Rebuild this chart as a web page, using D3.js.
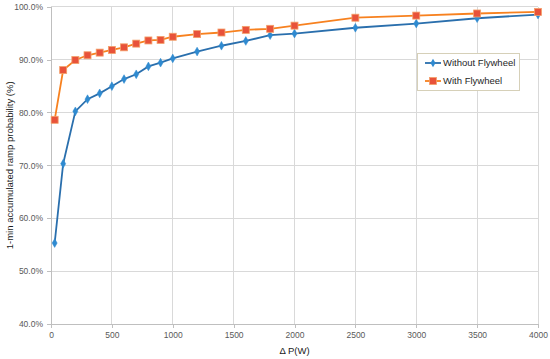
<!DOCTYPE html>
<html><head><meta charset="utf-8">
<script src="https://cdn.jsdelivr.net/npm/d3@7"></script>
<style>body{margin:0;background:#fff}svg{display:block}</style>
</head><body>
<script>
const deltaP = [30,100,200,300,400,500,600,700,800,900,1000,1200,1400,1600,1800,2000,2500,3000,3500,4000];
const withoutFlywheel = [55.3,70.3,80.2,82.5,83.6,84.95,86.3,87.2,88.7,89.4,90.2,91.5,92.6,93.5,94.6,94.9,96.0,96.8,97.8,98.5];
const withFlywheel = [78.6,88.0,89.9,90.8,91.3,91.8,92.3,93.0,93.6,93.7,94.3,94.8,95.1,95.6,95.8,96.4,97.9,98.3,98.7,99.0];
const xTicks = [0,500,1000,1500,2000,2500,3000,3500,4000];
const yTicks = [40,50,60,70,80,90,100];
const seriesNames = ["Without Flywheel","With Flywheel"];

const W=550,H=359;
const m={l:51,r:12,t:6.6,b:35};
const svg=d3.select("body").append("svg").attr("width",W).attr("height",H);
const x=d3.scaleLinear().domain([0,4000]).range([m.l,W-m.r]);
const y=d3.scaleLinear().domain([40,100]).range([H-m.b,m.t]);
const font="'Liberation Sans', Arial, sans-serif";

// grid
svg.append("g").selectAll("line").data(yTicks.slice(1)).join("line")
  .attr("x1",m.l).attr("x2",W-m.r).attr("y1",d=>y(d)).attr("y2",d=>y(d))
  .attr("stroke","#d9d9d9").attr("stroke-width",1).attr("shape-rendering","crispEdges");
svg.append("g").selectAll("line").data(xTicks.slice(1)).join("line")
  .attr("x1",d=>x(d)).attr("x2",d=>x(d)).attr("y1",m.t).attr("y2",H-m.b)
  .attr("stroke","#d9d9d9").attr("stroke-width",1).attr("shape-rendering","crispEdges");

// axes
const xa=svg.append("g").attr("transform",`translate(0,${H-m.b})`)
  .call(d3.axisBottom(x).tickValues(xTicks).tickSize(4).tickPadding(4).tickFormat(d3.format("d")));
const ya=svg.append("g").attr("transform",`translate(${m.l},0)`)
  .call(d3.axisLeft(y).tickValues(yTicks).tickSize(4).tickPadding(4).tickFormat(d=>d.toFixed(1)+"%"));
[xa,ya].forEach(a=>{
  a.select(".domain").attr("stroke","#bfbfbf").attr("shape-rendering","crispEdges");
  a.selectAll(".tick line").attr("stroke","#bfbfbf").attr("shape-rendering","crispEdges");
  a.selectAll("text").attr("fill","#595959").attr("font-family",font).attr("font-size","8.5px");
});

// titles
svg.append("text").attr("x",(x(0)+x(4000))/2).attr("y",354).attr("text-anchor","middle")
  .attr("font-family",font).attr("font-size","9.5px").attr("fill","#1a1a1a").text("Δ P(W)");
svg.append("text").attr("transform",`translate(13,${(y(40)+y(100))/2}) rotate(-90)`).attr("text-anchor","middle")
  .attr("font-family",font).attr("font-size","9.5px").attr("fill","#1a1a1a")
  .text("1-min accumulated ramp probability (%)");

const line=d3.line().x(d=>x(d[0])).y(d=>y(d[1]));
const dataA=deltaP.map((d,i)=>[d,withoutFlywheel[i]]);
const dataB=deltaP.map((d,i)=>[d,withFlywheel[i]]);
const blue="#2a6fad", blueM="#2f8ad0", orange="#f7811f", orangeM="#e8523a";

svg.append("path").datum(dataA).attr("d",line).attr("fill","none").attr("stroke",blue).attr("stroke-width",1.8);
svg.append("path").datum(dataB).attr("d",line).attr("fill","none").attr("stroke",orange).attr("stroke-width",1.8);

const diamond=d3.symbol().type(d3.symbolDiamond).size(22);
svg.append("g").selectAll("path").data(dataA).join("path")
  .attr("transform",d=>`translate(${x(d[0])},${y(d[1])})`).attr("d",diamond).attr("fill",blueM).attr("stroke",blueM).attr("stroke-width",0.5);
svg.append("g").selectAll("rect").data(dataB).join("rect")
  .attr("x",d=>x(d[0])-3.5).attr("y",d=>y(d[1])-3.5).attr("width",7).attr("height",7)
  .attr("fill",orangeM).attr("stroke","#f4a06a").attr("stroke-width",0.8);

// legend
const lg=svg.append("g");
lg.append("rect").attr("x",417.5).attr("y",53.5).attr("width",102).attr("height",37)
  .attr("fill","#fff").attr("stroke","#d6d0b8").attr("stroke-width",1);
[[0,blue,blueM],[1,orange,orangeM]].forEach(([i,c,mc])=>{
  const yy=63+i*18;
  lg.append("line").attr("x1",425).attr("x2",441).attr("y1",yy).attr("y2",yy).attr("stroke",c).attr("stroke-width",1.8);
  if(i===0) lg.append("path").attr("transform",`translate(433,${yy})`).attr("d",diamond).attr("fill",mc);
  else lg.append("rect").attr("x",429.5).attr("y",yy-3.5).attr("width",7).attr("height",7).attr("fill",mc).attr("stroke","#f4a06a").attr("stroke-width",0.8);
  lg.append("text").attr("x",443).attr("y",yy+3.3).attr("font-family",font).attr("font-size","9.5px").attr("fill","#262626").text(seriesNames[i]);
});
</script>
</body></html>
